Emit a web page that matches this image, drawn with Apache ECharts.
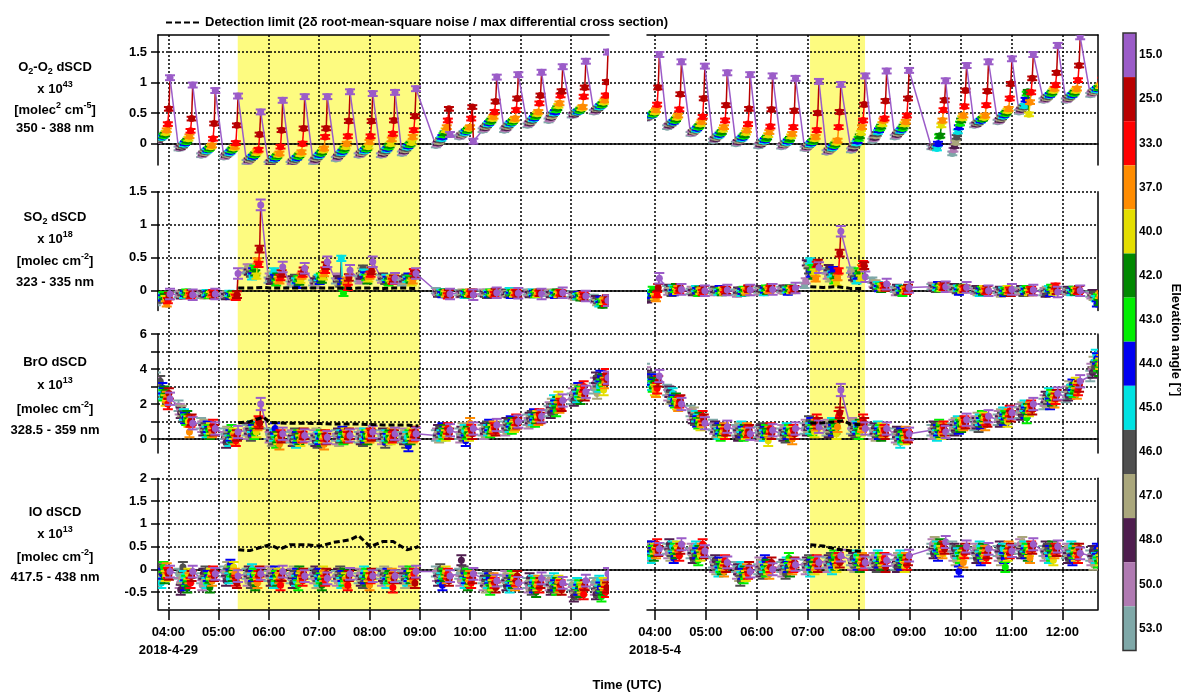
<!DOCTYPE html>
<html>
<head>
<meta charset="utf-8">
<script src="https://cdn.jsdelivr.net/npm/echarts@6/dist/echarts.min.js"></script>
<style>
html, body { margin: 0; padding: 0; background: #fff; }
#chart { width: 1185px; height: 693px; }
</style>
</head>
<body>
<div id="chart"></div>
<script>
// elevation angles in the order they are measured inside one scan (time order)
const angles = [53, 50, 48, 47, 46, 45, 44, 43, 42, 40, 37, 33, 25, 15];
const angleColors = ['#7fa8a8', '#b07ab2', '#4e1d4e', '#aaa77c', '#4f4f4f', '#00e2e2', '#0000f0',
                     '#00ee00', '#008800', '#e4de00', '#ff8c00', '#ff0000', '#b80000', '#9b5cc8'];
// minutes before the 15 deg measurement that closes each scan
const scanOffsetMin = [-16.9, -15.6, -14.3, -13, -11.7, -10.4, -9.1, -7.8, -6.5, -5.2, -3.9, -2.6, -1.3, 0];

const hourTicks = [4, 5, 6, 7, 8, 9, 10, 11, 12];
const dayLabels = ['2018-4-29', '2018-5-4'];
const day1Range = [3.795, 12.76];
const day2Range = [3.843, 12.70];
const shadeDay1 = [5.38, 9.0];
const shadeDay2 = [7.045, 8.125];

// time (UTC hours) of the last (15 deg) point of every scan
const scanEndDay1 = [4.034, 4.485, 4.934, 5.386, 5.837, 6.274, 6.712, 7.161, 7.612, 8.064,
                     8.507, 8.924, 9.60, 10.064, 10.529, 10.958, 11.42, 11.84, 12.30, 12.74];
const scanEndDay2 = [4.085, 4.52, 4.98, 5.42, 5.87, 6.31, 6.76, 7.22, 7.65, 8.13,
                     8.55, 8.99, 9.71, 10.12, 10.55, 11.01, 11.43, 11.91, 12.35, 12.83];

// dSCD per scan, columns follow `angles`
const o2o2Day1 = [
  [0.04,0.05,0.06,0.08,0.09,0.10,0.12,0.13,0.15,0.18,0.22,0.32,0.57,1.08],
  [-0.08,-0.07,-0.06,-0.04,-0.03,-0.01,0.01,0.03,0.05,0.08,0.12,0.21,0.41,0.96],
  [-0.19,-0.18,-0.16,-0.15,-0.13,-0.12,-0.10,-0.09,-0.07,-0.05,-0.03,0.08,0.33,0.87],
  [-0.22,-0.21,-0.19,-0.18,-0.16,-0.15,-0.13,-0.11,-0.09,-0.07,-0.05,0.01,0.30,0.78],
  [-0.30,-0.29,-0.27,-0.26,-0.24,-0.22,-0.21,-0.19,-0.17,-0.15,-0.12,-0.10,0.15,0.52],
  [-0.33,-0.31,-0.30,-0.28,-0.27,-0.25,-0.24,-0.22,-0.20,-0.18,-0.16,-0.05,0.22,0.71],
  [-0.33,-0.31,-0.29,-0.28,-0.26,-0.24,-0.23,-0.21,-0.19,-0.17,-0.14,0.00,0.25,0.77],
  [-0.30,-0.28,-0.26,-0.24,-0.22,-0.20,-0.18,-0.16,-0.14,-0.11,-0.08,0.11,0.25,0.77],
  [-0.25,-0.23,-0.21,-0.19,-0.17,-0.15,-0.13,-0.11,-0.08,-0.05,0.00,0.12,0.37,0.85],
  [-0.19,-0.18,-0.16,-0.15,-0.13,-0.12,-0.10,-0.09,-0.07,-0.05,0.03,0.12,0.37,0.82],
  [-0.19,-0.18,-0.16,-0.14,-0.12,-0.10,-0.08,-0.06,-0.03,0.00,0.07,0.16,0.38,0.84],
  [-0.16,-0.14,-0.12,-0.10,-0.08,-0.06,-0.04,-0.02,0.00,0.02,0.11,0.22,0.45,0.90],
  [-0.03,-0.01,0.01,0.03,0.06,0.08,0.11,0.14,0.17,0.22,0.27,0.38,0.57,0.15],
  [0.11,0.12,0.14,0.15,0.17,0.18,0.20,0.21,0.23,0.25,0.27,0.41,0.60,0.04],
  [0.22,0.24,0.26,0.28,0.30,0.32,0.34,0.36,0.38,0.41,0.44,0.52,0.69,1.09],
  [0.22,0.24,0.26,0.28,0.30,0.32,0.34,0.35,0.37,0.39,0.41,0.55,0.74,1.13],
  [0.30,0.32,0.34,0.36,0.38,0.40,0.42,0.44,0.46,0.49,0.52,0.66,0.79,1.17],
  [0.38,0.40,0.43,0.45,0.48,0.50,0.52,0.55,0.58,0.62,0.66,0.79,0.86,1.26],
  [0.46,0.47,0.48,0.50,0.51,0.52,0.53,0.54,0.56,0.58,0.60,0.77,0.92,1.35],
  [0.52,0.53,0.55,0.57,0.58,0.60,0.62,0.63,0.65,0.68,0.71,0.79,1.01,1.50]
];
const o2o2Day2 = [
  [0.41,0.42,0.43,0.44,0.45,0.46,0.47,0.48,0.50,0.52,0.55,0.64,0.92,1.46],
  [0.27,0.29,0.30,0.32,0.33,0.35,0.36,0.38,0.40,0.43,0.46,0.56,0.81,1.34],
  [0.16,0.17,0.19,0.20,0.22,0.23,0.25,0.27,0.29,0.32,0.36,0.44,0.74,1.27],
  [0.05,0.07,0.08,0.10,0.12,0.13,0.15,0.17,0.19,0.23,0.27,0.38,0.63,1.16],
  [0.00,0.02,0.03,0.05,0.07,0.08,0.10,0.12,0.14,0.18,0.22,0.32,0.57,1.13],
  [-0.04,-0.02,-0.01,0.01,0.03,0.04,0.06,0.08,0.10,0.14,0.19,0.28,0.56,1.11],
  [-0.05,-0.04,-0.02,-0.01,0.01,0.02,0.04,0.06,0.08,0.12,0.16,0.27,0.54,1.07],
  [-0.08,-0.07,-0.05,-0.04,-0.02,-0.01,0.01,0.03,0.05,0.08,0.11,0.22,0.50,1.02],
  [-0.14,-0.13,-0.11,-0.10,-0.08,-0.07,-0.05,-0.03,-0.01,0.02,0.05,0.27,0.52,0.97],
  [-0.11,-0.09,-0.07,-0.04,-0.02,0.01,0.04,0.08,0.12,0.18,0.27,0.38,0.64,1.11],
  [0.05,0.08,0.10,0.13,0.16,0.19,0.22,0.25,0.28,0.32,0.38,0.41,0.70,1.19],
  [0.11,0.13,0.15,0.17,0.19,0.21,0.23,0.25,0.28,0.32,0.36,0.46,0.74,1.20],
  [-0.06,-0.05,-0.05,-0.06,-0.05,-0.08,0.00,0.12,0.13,0.30,0.38,0.55,0.71,1.03],
  [-0.16,-0.10,-0.04,0.02,0.11,0.20,0.27,0.33,0.38,0.42,0.46,0.61,0.87,1.28],
  [0.30,0.31,0.32,0.34,0.35,0.37,0.38,0.40,0.41,0.43,0.46,0.63,0.86,1.34],
  [0.36,0.37,0.39,0.41,0.43,0.45,0.47,0.49,0.51,0.54,0.57,0.74,0.98,1.39],
  [0.52,0.54,0.56,0.58,0.60,0.62,0.72,0.82,0.85,0.48,0.68,0.84,1.07,1.46],
  [0.71,0.72,0.74,0.75,0.77,0.79,0.80,0.82,0.84,0.87,0.90,0.96,1.16,1.61],
  [0.71,0.72,0.74,0.75,0.77,0.79,0.80,0.82,0.84,0.87,0.90,1.04,1.28,1.75],
  [0.80,0.82,0.84,0.85,0.87,0.88,0.90,0.91,0.92,0.94,0.96,1.05,1.30,1.70]
];
const so2Day1 = [
  [-0.18,-0.15,-0.12,-0.10,-0.14,-0.08,-0.11,-0.06,-0.09,-0.12,-0.20,-0.15,-0.08,-0.05],
  [-0.06,-0.04,-0.08,-0.05,-0.03,-0.07,-0.04,-0.02,-0.06,-0.05,-0.03,-0.08,-0.04,-0.06],
  [-0.07,-0.05,-0.04,-0.08,-0.06,-0.03,-0.05,-0.07,-0.04,-0.06,-0.05,-0.03,-0.07,-0.05],
  [-0.08,-0.06,-0.09,-0.05,-0.07,-0.04,-0.08,-0.06,-0.05,-0.07,-0.09,-0.10,-0.06,0.26],
  [0.30,0.36,0.28,0.33,0.25,0.21,0.30,0.34,0.27,0.22,0.45,0.40,0.63,1.30],
  [0.16,0.22,0.14,0.25,0.18,0.30,0.20,0.12,0.22,0.17,0.15,0.20,0.26,0.36],
  [0.10,0.14,0.18,0.12,0.20,0.15,0.08,0.18,0.13,0.16,0.22,0.25,0.30,0.34],
  [0.12,0.08,0.15,0.10,0.18,0.20,0.14,0.22,0.16,0.21,0.26,0.31,0.38,0.44],
  [0.15,0.22,0.18,0.12,0.10,0.49,0.14,-0.04,0.08,0.12,0.16,0.05,0.20,0.31],
  [0.18,0.15,0.22,0.30,0.34,0.28,0.24,0.20,0.15,0.18,0.22,0.25,0.30,0.44],
  [0.20,0.16,0.22,0.18,0.14,0.20,0.17,0.12,0.15,0.19,0.16,0.14,0.18,0.19],
  [0.12,0.15,0.18,0.14,0.20,0.17,0.22,0.19,0.16,0.12,0.15,0.29,0.25,0.26],
  [0.00,-0.02,-0.05,-0.03,-0.04,-0.02,-0.06,-0.03,-0.02,-0.05,-0.03,-0.08,-0.04,-0.05],
  [-0.03,-0.06,-0.05,-0.02,-0.04,-0.07,-0.05,-0.03,-0.06,-0.04,-0.02,-0.05,-0.03,-0.06],
  [-0.04,-0.02,-0.05,-0.03,-0.07,-0.04,-0.06,-0.02,-0.05,-0.03,-0.04,-0.06,-0.02,-0.03],
  [-0.03,-0.05,-0.02,-0.04,-0.06,0.00,-0.07,-0.03,-0.04,-0.05,-0.02,-0.03,-0.05,-0.04],
  [-0.02,-0.04,-0.06,-0.03,-0.05,-0.02,-0.04,-0.06,-0.03,-0.05,-0.02,-0.04,-0.03,-0.05],
  [-0.04,-0.03,-0.06,-0.02,-0.05,-0.04,-0.07,-0.03,-0.02,-0.06,-0.04,-0.03,-0.05,-0.03],
  [-0.05,-0.08,-0.06,-0.10,-0.07,-0.09,-0.06,-0.08,-0.11,-0.07,-0.09,-0.06,-0.10,-0.08],
  [-0.10,-0.14,-0.12,-0.18,-0.15,-0.20,-0.13,-0.17,-0.22,-0.16,-0.14,-0.19,-0.12,-0.15]
];
const so2Day2 = [
  [-0.12,-0.08,-0.14,-0.05,-0.10,-0.03,-0.07,0.02,-0.04,-0.09,-0.12,-0.06,0.05,0.19],
  [0.03,-0.02,0.05,0.00,-0.04,0.04,-0.03,0.02,0.06,-0.01,0.03,0.00,0.05,0.02],
  [-0.01,0.02,-0.03,0.01,-0.02,0.03,0.00,-0.04,0.02,-0.01,0.01,-0.03,0.02,0.00],
  [0.00,-0.03,0.02,-0.01,0.01,-0.02,0.03,0.00,-0.03,0.01,-0.02,0.02,0.00,0.01],
  [-0.02,-0.05,0.01,-0.03,0.00,-0.04,-0.01,0.02,-0.03,0.00,-0.02,0.04,0.03,0.01],
  [0.01,-0.02,0.03,0.00,0.02,-0.03,0.01,0.04,-0.01,0.02,0.00,0.03,0.05,0.02],
  [0.02,0.00,0.04,-0.01,0.03,0.01,-0.02,0.02,0.04,0.00,0.03,0.01,0.02,0.04],
  [0.08,0.15,0.42,0.38,0.30,0.45,0.25,0.35,0.22,0.28,0.18,0.40,0.42,0.35],
  [0.30,0.22,0.35,0.18,0.28,0.25,0.32,0.15,0.22,0.12,0.20,0.30,0.57,0.90],
  [0.31,0.25,0.20,0.28,0.18,0.15,0.22,0.30,0.26,0.19,0.35,0.41,0.38,0.21],
  [0.16,0.10,0.08,0.12,0.05,0.09,0.03,0.07,0.02,0.06,0.04,0.08,0.05,0.10],
  [0.02,-0.03,0.05,0.00,-0.02,0.04,0.01,-0.04,0.03,0.00,0.02,-0.01,0.04,0.05],
  [0.06,0.08,0.04,0.07,0.02,0.05,0.09,0.03,0.06,0.04,0.08,0.05,0.07,0.06],
  [0.05,0.02,0.06,0.03,0.00,0.04,-0.02,0.03,0.05,0.01,0.04,0.02,0.03,0.05],
  [0.02,-0.01,0.03,-0.03,0.01,-0.04,0.00,0.02,-0.02,0.03,0.01,-0.01,0.02,0.00],
  [0.00,-0.03,0.02,-0.05,-0.02,0.01,-0.04,0.00,-0.02,0.03,-0.01,0.01,-0.03,0.02],
  [0.01,-0.02,0.03,0.00,-0.04,0.02,-0.01,0.03,0.00,-0.03,0.01,0.02,-0.02,0.01],
  [-0.03,0.00,-0.05,0.02,-0.02,0.03,-0.04,0.05,0.01,-0.02,0.03,0.07,0.00,-0.02],
  [0.01,-0.02,0.02,-0.01,0.00,-0.03,0.01,0.02,-0.02,0.00,0.01,-0.01,0.02,0.00],
  [-0.05,-0.08,-0.03,-0.10,-0.06,-0.12,-0.20,-0.09,-0.18,-0.07,-0.05,-0.08,-0.06,-0.05]
];
const broDay1 = [
  [3.5,3.2,3.0,2.8,3.3,2.6,2.9,2.5,2.7,2.2,2.4,2.0,2.6,2.3],
  [1.9,1.7,1.5,1.6,1.3,1.4,1.2,1.1,1.3,1.0,0.4,1.0,1.1,0.9],
  [0.9,0.7,0.5,0.8,0.6,0.4,0.7,0.5,0.3,0.6,0.4,0.8,0.5,0.6],
  [0.3,0.1,-0.2,0.4,0.0,-0.1,0.2,0.5,0.1,0.3,0.0,-0.1,0.2,0.4],
  [0.5,0.3,0.6,0.4,0.2,0.7,0.5,0.3,0.6,0.4,0.8,1.0,0.9,2.0],
  [0.3,0.1,0.2,-0.1,0.0,0.2,0.6,-0.2,0.1,0.0,-0.3,0.2,0.1,0.3],
  [0.1,0.2,-0.1,0.0,0.3,-0.2,0.1,0.2,0.0,-0.1,0.2,0.1,0.3,0.2],
  [0.0,0.2,-0.1,0.3,-0.2,0.1,0.0,0.2,-0.1,0.1,-0.3,0.2,0.0,0.1],
  [0.2,0.0,0.3,-0.1,0.1,0.2,0.4,0.0,0.1,0.3,0.2,0.1,0.3,0.2],
  [0.1,0.3,0.0,0.2,-0.1,0.3,0.1,0.2,0.0,0.2,0.1,0.3,0.2,0.4],
  [0.2,0.0,0.3,0.1,-0.2,0.2,0.0,0.1,0.2,0.0,0.3,0.1,0.2,0.3],
  [0.1,0.3,0.0,0.2,-0.2,0.1,-0.4,0.2,0.0,0.3,0.1,0.2,0.4,0.3],
  [0.2,0.3,0.5,0.1,0.4,0.2,0.6,0.3,0.5,0.2,0.4,0.6,0.3,0.5],
  [0.3,0.1,0.4,0.6,0.2,0.5,-0.1,0.3,0.4,0.2,0.9,0.5,0.3,0.6],
  [0.5,0.3,0.6,0.4,0.7,0.5,0.8,0.4,0.6,0.5,0.7,0.6,0.5,0.8],
  [0.7,0.5,0.9,0.6,0.8,0.7,1.0,0.6,0.9,0.7,0.8,1.1,0.9,1.0],
  [1.1,0.9,1.2,1.0,1.3,1.1,1.4,1.0,1.2,1.3,1.1,1.4,1.2,1.3],
  [1.6,1.8,1.5,2.0,1.7,2.2,1.9,1.6,2.1,2.4,1.8,2.0,1.9,2.2],
  [2.3,2.6,2.2,2.8,2.5,2.4,2.9,2.7,2.3,2.6,2.8,3.0,2.5,2.7],
  [2.9,3.2,3.5,2.6,3.3,3.0,3.6,3.1,3.4,2.8,3.2,3.7,3.4,3.5]
];
const broDay2 = [
  [4.0,3.8,3.6,3.3,3.5,3.1,3.4,3.0,3.2,2.8,2.7,2.9,3.3,3.6],
  [2.8,2.5,2.7,2.3,2.4,2.6,2.2,2.1,2.3,2.0,1.9,2.1,2.2,2.0],
  [1.6,1.4,1.2,1.5,1.1,1.3,1.0,0.9,1.2,0.8,1.0,1.3,1.1,0.9],
  [0.8,0.6,0.7,0.4,0.5,0.3,0.6,0.2,0.5,0.4,0.6,0.3,0.5,0.7],
  [0.5,0.4,0.2,0.6,0.3,0.7,0.4,0.2,0.5,0.3,0.6,0.4,0.5,0.3],
  [0.4,0.2,0.5,0.3,0.6,0.2,0.4,0.5,0.3,-0.1,0.4,0.6,0.3,0.5],
  [0.3,0.5,0.2,0.4,0.1,0.6,0.3,0.5,0.2,0.4,0.0,0.5,0.3,0.6],
  [0.6,0.8,0.5,0.7,1.0,0.6,0.9,0.5,0.7,0.4,0.8,1.1,0.9,0.7],
  [0.5,0.8,0.4,0.7,0.6,0.9,0.5,0.8,0.6,0.3,0.7,1.3,1.5,2.8],
  [0.6,0.9,0.5,0.8,0.4,0.7,0.6,0.3,0.8,0.5,0.7,1.1,0.9,0.6],
  [0.5,0.3,0.6,0.2,0.4,0.7,0.3,0.5,0.2,0.6,0.4,0.5,0.3,0.6],
  [0.3,0.1,0.4,0.0,0.2,-0.2,0.3,0.1,0.2,0.0,0.4,0.2,0.1,0.3],
  [0.5,0.3,0.7,0.4,0.6,0.2,0.5,0.8,0.4,0.3,0.6,0.7,0.5,0.4],
  [0.6,0.8,0.5,0.9,0.7,1.0,0.6,0.8,0.7,0.9,0.8,1.0,0.9,1.1],
  [0.8,1.0,0.9,1.2,0.7,1.1,0.9,1.3,1.0,1.2,0.8,1.1,1.0,1.3],
  [1.1,1.3,1.0,1.4,1.2,1.5,1.1,1.3,1.2,1.0,1.4,1.6,1.3,1.5],
  [1.5,1.7,1.4,1.8,1.6,1.9,1.5,1.2,1.7,1.6,1.8,1.9,1.7,2.0],
  [2.0,2.2,2.4,2.1,2.3,2.6,2.0,2.5,2.2,2.4,2.1,2.3,2.5,2.6],
  [2.4,2.7,2.5,3.0,2.6,2.8,3.1,2.7,2.9,3.2,2.6,2.8,3.0,3.3],
  [3.6,4.0,3.8,4.4,4.1,4.8,4.6,4.2,3.9,4.3,4.5,4.7,4.4,4.6]
];
const ioDay1 = [
  [-0.25,-0.15,-0.05,-0.20,0.00,-0.30,-0.10,0.05,-0.20,-0.15,0.02,-0.08,-0.12,-0.05],
  [-0.10,-0.30,-0.45,-0.20,0.05,-0.15,-0.35,-0.25,-0.40,-0.10,-0.20,-0.30,-0.15,-0.05],
  [-0.20,-0.35,-0.10,-0.25,-0.05,-0.30,-0.15,-0.20,-0.40,-0.10,-0.25,-0.05,-0.15,-0.10],
  [-0.05,-0.15,-0.25,0.05,-0.10,-0.20,0.10,-0.05,-0.15,0.05,-0.10,-0.25,-0.30,-0.15],
  [-0.10,-0.25,-0.05,-0.20,-0.30,0.00,-0.15,-0.10,-0.35,-0.20,-0.30,-0.15,-0.05,-0.10],
  [-0.15,-0.05,-0.25,-0.10,-0.20,-0.30,-0.05,-0.15,-0.25,-0.10,-0.20,-0.35,-0.15,-0.05],
  [-0.20,-0.10,-0.30,-0.05,-0.15,-0.25,-0.10,-0.35,-0.05,-0.20,-0.15,-0.25,-0.10,-0.15],
  [-0.10,-0.20,-0.05,-0.30,-0.15,-0.25,-0.10,-0.20,-0.35,-0.05,-0.15,-0.25,-0.10,-0.20],
  [-0.15,-0.25,-0.10,-0.20,-0.05,-0.30,-0.15,-0.25,-0.10,-0.20,-0.30,-0.35,-0.15,-0.10],
  [-0.20,-0.10,-0.25,-0.15,-0.30,-0.05,-0.20,-0.10,-0.25,-0.15,-0.35,-0.20,-0.10,-0.15],
  [-0.10,-0.25,-0.15,-0.05,-0.20,-0.30,-0.10,-0.20,-0.15,-0.25,-0.10,-0.40,-0.20,-0.15],
  [-0.15,-0.05,-0.20,-0.30,-0.10,-0.25,-0.15,-0.05,-0.20,-0.15,-0.25,-0.10,-0.30,-0.05],
  [-0.05,-0.15,-0.25,-0.10,0.00,-0.20,-0.35,-0.10,-0.15,-0.05,-0.20,-0.10,-0.25,-0.15],
  [-0.10,-0.25,0.20,-0.15,-0.05,-0.30,-0.20,-0.10,-0.35,-0.25,-0.15,-0.30,-0.20,-0.10],
  [-0.20,-0.35,-0.25,-0.40,-0.15,-0.30,-0.20,-0.45,-0.25,-0.35,-0.20,-0.30,-0.40,-0.25],
  [-0.25,-0.15,-0.35,-0.20,-0.30,-0.40,-0.25,-0.15,-0.30,-0.20,-0.35,-0.25,-0.15,-0.30],
  [-0.30,-0.40,-0.20,-0.35,-0.45,-0.25,-0.40,-0.30,-0.50,-0.35,-0.25,-0.40,-0.30,-0.20],
  [-0.25,-0.35,-0.45,-0.30,-0.40,-0.20,-0.35,-0.45,-0.30,-0.25,-0.40,-0.35,-0.45,-0.30],
  [-0.35,-0.50,-0.60,-0.40,-0.55,-0.30,-0.45,-0.35,-0.50,-0.40,-0.45,-0.55,-0.35,-0.25],
  [-0.30,-0.45,-0.55,-0.35,-0.50,-0.25,-0.40,-0.60,-0.45,-0.30,-0.35,-0.50,-0.40,-0.10]
];
const ioDay2 = [
  [0.40,0.30,0.50,0.45,0.35,0.25,0.50,0.40,0.30,0.45,0.35,0.55,0.40,0.45],
  [0.45,0.35,0.55,0.30,0.40,0.50,0.25,0.45,0.35,0.50,0.40,0.30,0.45,0.55],
  [0.35,0.45,0.25,0.40,0.30,0.50,0.35,0.20,0.40,0.30,0.45,0.55,0.35,0.40],
  [0.15,0.05,0.20,0.00,0.10,-0.05,0.15,0.05,0.00,0.10,-0.05,0.20,0.05,0.15],
  [0.05,-0.10,0.00,-0.15,-0.25,0.05,-0.10,-0.20,-0.05,-0.15,0.00,-0.10,0.05,-0.05],
  [0.00,0.15,-0.05,0.10,-0.10,0.05,0.20,-0.05,0.10,0.00,-0.10,0.05,0.15,0.00],
  [0.05,-0.05,0.10,0.00,-0.10,0.15,0.05,0.25,-0.05,0.10,0.00,0.05,0.15,0.10],
  [0.10,0.00,0.15,0.05,0.20,-0.05,0.10,0.15,0.05,0.00,0.10,0.20,0.05,0.15],
  [0.15,0.05,0.20,0.10,0.25,0.00,0.15,0.30,0.10,0.05,0.20,0.25,0.15,0.30],
  [0.20,0.10,0.25,0.05,0.15,0.30,0.10,0.20,0.05,0.15,0.25,0.10,0.20,0.15],
  [0.15,0.25,0.10,0.20,0.05,0.30,0.15,0.25,0.10,0.20,0.15,0.25,0.05,0.20],
  [0.10,0.20,0.05,0.25,0.15,0.30,0.10,0.20,0.15,0.05,0.25,0.10,0.20,0.30],
  [0.45,0.55,0.35,0.60,0.40,0.50,0.30,0.45,0.55,0.40,0.35,0.50,0.45,0.60],
  [0.50,0.30,0.45,0.20,0.40,0.35,-0.05,0.25,0.40,0.30,0.15,0.35,0.45,0.50],
  [0.35,0.45,0.25,0.40,0.30,0.50,0.20,0.35,0.45,0.30,0.40,0.25,0.35,0.45],
  [0.40,0.30,0.50,0.20,0.35,0.45,0.25,0.05,0.40,0.30,0.50,0.35,0.45,0.40],
  [0.45,0.55,0.35,0.60,0.40,0.50,0.35,0.45,0.30,0.40,0.25,0.50,0.45,0.55],
  [0.40,0.30,0.50,0.35,0.45,0.25,0.40,0.30,0.50,0.20,0.35,0.45,0.40,0.50],
  [0.35,0.45,0.25,0.40,0.30,0.50,0.20,0.35,0.45,0.30,0.40,0.25,0.45,0.35],
  [0.30,0.20,0.40,0.10,0.35,0.25,0.45,0.15,0.30,0.20,0.35,0.25,0.40,0.30]
];

// 1-sigma fit errors per angle (columns follow `angles`)
const o2o2Err = [0.03,0.03,0.03,0.03,0.03,0.03,0.03,0.03,0.03,0.03,0.03,0.03,0.03,0.04];
const so2Err = [0.04,0.04,0.04,0.04,0.04,0.04,0.04,0.04,0.04,0.04,0.04,0.04,0.05,0.08];
const broErr = [0.3,0.3,0.3,0.3,0.3,0.3,0.3,0.3,0.3,0.3,0.3,0.3,0.3,0.35];
const ioErr = [0.11,0.11,0.11,0.11,0.11,0.11,0.11,0.11,0.11,0.11,0.11,0.11,0.11,0.13];

// detection limit curves
const dlTimeDay1 = [5.39, 5.62, 5.89, 6.02, 6.22, 6.42, 6.75, 7.02, 7.28, 7.62, 7.78, 8.01, 8.27, 8.47, 8.74, 8.87, 8.97];
const dlSo2Day1 = [0.04, 0.04, 0.05, 0.04, 0.04, 0.04, 0.04, 0.04, 0.04, 0.035, 0.04, 0.04, 0.035, 0.04, 0.04, 0.035, 0.04];
const dlBroDay1 = [0.93, 0.99, 1.25, 0.95, 0.92, 0.90, 0.90, 0.88, 0.86, 0.86, 0.85, 0.83, 0.80, 0.80, 0.80, 0.77, 0.74];
const dlIoDay1 = [0.43, 0.41, 0.50, 0.54, 0.44, 0.54, 0.54, 0.51, 0.59, 0.65, 0.74, 0.50, 0.61, 0.61, 0.43, 0.46, 0.50];
const dlTimeDay2 = [7.05, 7.31, 7.57, 7.70, 7.83, 8.09];
const dlSo2Day2 = [0.06, 0.05, 0.06, 0.05, 0.035, 0.035];
const dlBroDay2 = [0.90, 0.93, 0.99, 1.05, 0.86, 0.80];
const dlIoDay2 = [0.54, 0.51, 0.44, 0.42, 0.41, 0.39];

const o2o2Ticks = [0, 0.5, 1, 1.5];
const so2Ticks = [0, 0.5, 1, 1.5];
const broTicks = [0, 1, 2, 3, 4, 5, 6];
const broLabels = [0, 2, 4, 6];
const ioTicks = [-0.5, 0, 0.5, 1, 1.5, 2];

const dlName = 'Detection limit (2\u03b4 root-mean-square noise / max differential cross section)';
const FONT = '"Liberation Sans", Arial, sans-serif';

const panels = [
  { top: 35, height: 130, min: -0.35, max: 1.78, ticks: o2o2Ticks, labels: o2o2Ticks,
    rows: [o2o2Day1, o2o2Day2], err: o2o2Err, dl: null,
    title: ['{n|O}{b|2}{n|-O}{b|2}{n| dSCD}', '{n|x 10}{t|43}', '{n|[molec}{t|2}{n| cm}{t|-5}{n|]}', '{n|350 - 388 nm}'],
    titleY: [67, 89, 110, 128] },
  { top: 191.7, height: 118.8, min: -0.3, max: 1.5, ticks: so2Ticks, labels: so2Ticks,
    rows: [so2Day1, so2Day2], err: so2Err, dl: [dlSo2Day1, dlSo2Day2],
    title: ['{n|SO}{b|2}{n| dSCD}', '{n|x 10}{t|18}', '{n|[molec cm}{t|-2}{n|]}', '{n|323 - 335 nm}'],
    titleY: [217, 239, 261, 282] },
  { top: 334, height: 119, min: -0.8, max: 6, ticks: broTicks, labels: broLabels,
    rows: [broDay1, broDay2], err: broErr, dl: [dlBroDay1, dlBroDay2],
    title: ['{n|BrO dSCD}', '{n|x 10}{t|13}', '{n|[molec cm}{t|-2}{n|]}', '{n|328.5 - 359 nm}'],
    titleY: [362, 385, 409, 430] },
  { top: 478.3, height: 131, min: -0.88, max: 2, ticks: ioTicks, labels: ioTicks,
    rows: [ioDay1, ioDay2], err: ioErr, dl: [dlIoDay1, dlIoDay2],
    title: ['{n|IO dSCD}', '{n|x 10}{t|13}', '{n|[molec cm}{t|-2}{n|]}', '{n|417.5 - 438 nm}'],
    titleY: [512, 534, 557, 577] }
];

function buildPoints(scanEnds, rows, errs) {
  const pts = [];
  scanEnds.forEach(function (tEnd, s) {
    rows[s].forEach(function (v, k) {
      pts.push([tEnd + scanOffsetMin[k] / 60, v, errs[k], k]);
    });
  });
  return pts.map(function (p, i) {
    const n = pts[i + 1] || p;
    return [p[0], p[1], p[2], p[3], n[0], n[1]];
  });
}

function renderPoint(params, api) {
  const x = api.value(0), y = api.value(1), e = api.value(2), k = api.value(3);
  const c = angleColors[k];
  const p = api.coord([x, y]);
  const n = api.coord([api.value(4), api.value(5)]);
  const hi = api.coord([x, y + e])[1];
  const lo = api.coord([x, y - e])[1];
  const cap = 5;
  return {
    type: 'group',
    children: [
      { type: 'line', shape: { x1: p[0], y1: p[1], x2: n[0], y2: n[1] }, style: { stroke: c, lineWidth: 1.5 } },
      { type: 'line', shape: { x1: p[0], y1: hi, x2: p[0], y2: lo }, style: { stroke: c, lineWidth: 1.5 } },
      { type: 'line', shape: { x1: p[0] - cap, y1: hi, x2: p[0] + cap, y2: hi }, style: { stroke: c, lineWidth: 2 } },
      { type: 'line', shape: { x1: p[0] - cap, y1: lo, x2: p[0] + cap, y2: lo }, style: { stroke: c, lineWidth: 2 } },
      { type: 'circle', shape: { cx: p[0], cy: p[1], r: 3.5 }, style: { fill: c } }
    ]
  };
}

const blackLine = { color: '#000', width: 1.5 };
const dotted = { color: '#000', width: 1.5, type: [2, 2] };
const labelFont = { color: '#000', fontWeight: 'bold', fontSize: 13, fontFamily: FONT };

// grids: 0,1 background per day; 2-5 full-width panels; 6-9 day 1 panels; 10-13 day 2 panels
const grid = [
  { left: 158, top: 35, width: 451, height: 575 },
  { left: 647, top: 35, width: 451, height: 575 }
];
panels.forEach(function (p) { grid.push({ left: 158, top: p.top, width: 940, height: p.height }); });
panels.forEach(function (p) { grid.push({ left: 158, top: p.top, width: 451, height: p.height }); });
panels.forEach(function (p) { grid.push({ left: 647, top: p.top, width: 451, height: p.height }); });

function timeAxis(gi, range, date) {
  return {
    type: 'value', gridIndex: gi, min: range[0], max: range[1], z: 3,
    axisLine: { onZero: false, lineStyle: blackLine },
    axisTick: { length: 10, customValues: hourTicks, lineStyle: blackLine },
    axisLabel: Object.assign({
      customValues: hourTicks, margin: 13, lineHeight: 18,
      formatter: function (v) {
        return (v < 10 ? '0' : '') + v + ':00' + (v === hourTicks[0] ? '\n' + date : '');
      }
    }, labelFont),
    splitLine: { show: true, lineStyle: dotted }
  };
}
function frameAxis(gi, range) {
  return {
    type: 'value', gridIndex: gi, position: 'top', min: range[0], max: range[1], z: 3,
    axisLine: { onZero: false, lineStyle: blackLine },
    axisTick: { show: false }, axisLabel: { show: false }, splitLine: { show: false }
  };
}

const xAxis = [timeAxis(0, day1Range, dayLabels[0]), frameAxis(0, day1Range),
               timeAxis(1, day2Range, dayLabels[1]), frameAxis(1, day2Range)];
panels.forEach(function (p, i) {
  xAxis.push({ type: 'value', gridIndex: 2 + i, min: 0, max: 1, z: 3,
    axisLine: { onZero: true, lineStyle: blackLine },
    axisTick: { show: false }, axisLabel: { show: false }, splitLine: { show: false } });
});
panels.forEach(function (p, i) {
  xAxis.push({ type: 'value', gridIndex: 6 + i, min: day1Range[0], max: day1Range[1], show: false });
});
panels.forEach(function (p, i) {
  xAxis.push({ type: 'value', gridIndex: 10 + i, min: day2Range[0], max: day2Range[1], show: false });
});

const yAxis = [
  { type: 'value', gridIndex: 0, min: 0, max: 1, show: false },
  { type: 'value', gridIndex: 1, min: 0, max: 1, show: false }
];
panels.forEach(function (p, i) {
  yAxis.push({ type: 'value', gridIndex: 2 + i, min: p.min, max: p.max, z: 3,
    axisLine: { show: true, onZero: false, lineStyle: blackLine },
    axisTick: { show: true, length: 7, customValues: p.ticks, lineStyle: blackLine },
    axisLabel: Object.assign({ customValues: p.labels, margin: 11 }, labelFont),
    splitLine: { show: true, lineStyle: dotted } });
});
panels.forEach(function (p, i) {
  yAxis.push({ type: 'value', gridIndex: 6 + i, min: p.min, max: p.max, show: false });
});
panels.forEach(function (p, i) {
  yAxis.push({ type: 'value', gridIndex: 10 + i, min: p.min, max: p.max, position: 'right', z: 3,
    axisLine: { show: true, onZero: false, lineStyle: blackLine },
    axisTick: { show: false }, axisLabel: { show: false }, splitLine: { show: false } });
});

const series = [
  { type: 'line', xAxisIndex: 0, yAxisIndex: 0, data: [], silent: true,
    markArea: { silent: true, itemStyle: { color: '#fdfb80' }, data: [[{ xAxis: shadeDay1[0] }, { xAxis: shadeDay1[1] }]] } },
  { type: 'line', xAxisIndex: 2, yAxisIndex: 1, data: [], silent: true,
    markArea: { silent: true, itemStyle: { color: '#fdfb80' }, data: [[{ xAxis: shadeDay2[0] }, { xAxis: shadeDay2[1] }]] } }
];
const scanEnds = [scanEndDay1, scanEndDay2];
const dlTimes = [dlTimeDay1, dlTimeDay2];
panels.forEach(function (p, i) {
  [0, 1].forEach(function (d) {
    const xi = (d === 0 ? 8 : 12) + i, yi = (d === 0 ? 6 : 10) + i;
    series.push({
      type: 'custom', xAxisIndex: xi, yAxisIndex: yi, z: 10, clip: true, silent: true,
      dimensions: ['t', 'v', 'e', 'k', 'nt', 'nv'], encode: { x: 0, y: 1 },
      data: buildPoints(scanEnds[d], p.rows[d], p.err),
      renderItem: renderPoint
    });
    if (p.dl) {
      series.push({
        type: 'line', name: dlName, xAxisIndex: xi, yAxisIndex: yi, z: 11, silent: true,
        symbol: 'none', itemStyle: { color: '#000' },
        lineStyle: { color: '#000', width: 3, type: [6, 3] },
        data: dlTimes[d].map(function (t, j) { return [t, p.dl[d][j]]; })
      });
    }
  });
});

// graphic texts: panel titles, colour bar, axis title
const richStyles = {
  n: { fontSize: 13, fontWeight: 'bold', fontFamily: FONT, lineHeight: 18, color: '#000' },
  b: { fontSize: 9, fontWeight: 'bold', fontFamily: FONT, lineHeight: 8, verticalAlign: 'bottom', color: '#000' },
  t: { fontSize: 9, fontWeight: 'bold', fontFamily: FONT, lineHeight: 8, verticalAlign: 'top', color: '#000' }
};
const graphic = [];
panels.forEach(function (p) {
  p.title.forEach(function (line, j) {
    graphic.push({ type: 'text', x: 55, y: p.titleY[j], silent: true,
      style: { text: line, rich: richStyles, align: 'center', verticalAlign: 'middle' } });
  });
});
const cbTop = 33, cbH = 44.1, cbX = 1123, cbW = 13;
angles.slice().reverse().forEach(function (a, j) {
  const k = angles.length - 1 - j;
  graphic.push({ type: 'rect', silent: true, shape: { x: cbX, y: cbTop + j * cbH, width: cbW, height: cbH },
    style: { fill: angleColors[k] } });
  graphic.push({ type: 'text', silent: true, x: cbX + cbW + 3, y: cbTop + (j + 0.5) * cbH,
    style: { text: a.toFixed(1), fill: '#000', font: 'bold 12px ' + FONT, align: 'left', verticalAlign: 'middle' } });
});
graphic.push({ type: 'rect', silent: true, shape: { x: cbX, y: cbTop, width: cbW, height: cbH * angles.length },
  style: { fill: 'none', stroke: '#333', lineWidth: 1.5 } });
graphic.push({ type: 'text', silent: true, x: 1176, y: 340, rotation: -Math.PI / 2,
  style: { text: 'Elevation angle [\u00b0]', fill: '#000', font: 'bold 13px ' + FONT, align: 'center', verticalAlign: 'middle' } });
graphic.push({ type: 'text', silent: true, x: 627, y: 685,
  style: { text: 'Time (UTC)', fill: '#000', font: 'bold 13px ' + FONT, align: 'center', verticalAlign: 'middle' } });

const chart = echarts.init(document.getElementById('chart'));
chart.setOption({
  animation: false,
  backgroundColor: '#fff',
  textStyle: { fontFamily: FONT },
  legend: {
    data: [dlName], left: 160, top: 11, itemWidth: 34, itemHeight: 12, itemGap: 6,
    itemStyle: { opacity: 0 },
    textStyle: labelFont, selectedMode: false
  },
  grid: grid,
  xAxis: xAxis,
  yAxis: yAxis,
  series: series,
  graphic: graphic
});
</script>
</body>
</html>
